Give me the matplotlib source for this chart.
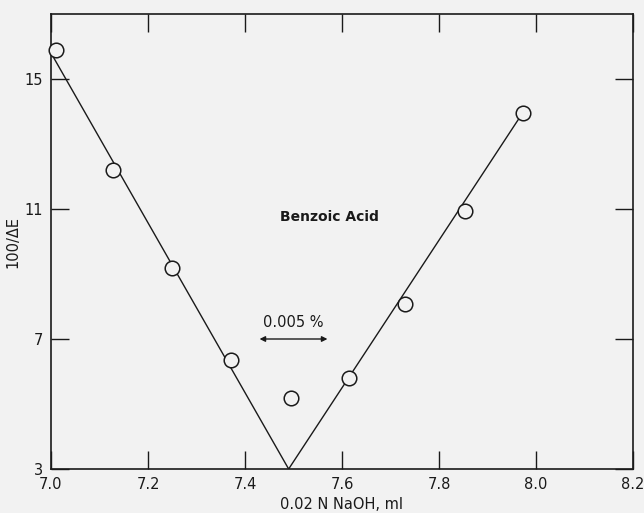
import numpy as np
import matplotlib.pyplot as plt

# measured points
vol = [7.01, 7.128, 7.249, 7.371, 7.495, 7.614, 7.730, 7.854, 7.973]
inv_e = [15.9, 12.2, 9.18, 6.35, 5.18, 5.8, 8.08, 10.94, 13.95]

# fitted V lines
line_x = [7.0, 7.49, 7.97]
line_y = [15.8, 3.0, 13.9]

xticks = [7.0, 7.2, 7.4, 7.6, 7.8, 8.0, 8.2]
xtick_labels = ["7.0", "7.2", "7.4", "7.6", "7.8", "8.0", "8.2"]
yticks = [3, 7, 11, 15]

bg = "#f2f2f2"
ink = "#1a1a1a"

fig = plt.figure(figsize=(6.44, 5.13), dpi=100, facecolor=bg)
ax = fig.add_axes([51 / 644, 1 - 469 / 513, 582 / 644, 455 / 513])
ax.set_facecolor(bg)

ax.plot(line_x, line_y, color=ink, lw=1.0, zorder=2)
ax.plot(vol, inv_e, "o", ms=10.5, mfc=bg, mec=ink, mew=1.1, zorder=3,
        clip_on=False)

ax.set_xlim(7.0, 8.2)
ax.set_ylim(3, 17)
ax.set_xticks(xticks)
ax.set_xticklabels(xtick_labels)
ax.set_yticks(yticks)
ax.tick_params(direction="in", length=13, width=1.0, colors=ink,
               top=True, right=True, labelsize=10.5, pad=6)
for s in ax.spines.values():
    s.set_color(ink)
    s.set_linewidth(1.2)

ax.set_xlabel("0.02 N NaOH, ml", fontsize=10.5, color=ink)
ax.set_ylabel("100/\u0394E", fontsize=10.5, color=ink)
ax.xaxis.set_label_coords(0.5, -0.062)
ax.yaxis.set_label_coords(-0.052, 0.5)

ax.text(7.575, 10.75, "Benzoic Acid", fontsize=10, color=ink,
        ha="center", va="center", fontweight="semibold")
ax.text(7.5, 7.5, "0.005 %", fontsize=10.5, color=ink, ha="center",
        va="center")
ax.annotate("", xy=(7.43, 7.0), xytext=(7.57, 7.0),
            arrowprops=dict(arrowstyle="<|-|>", color=ink, lw=1.0,
                            mutation_scale=8, shrinkA=0, shrinkB=0))

fig.savefig("out.png", dpi=100, facecolor=bg)
